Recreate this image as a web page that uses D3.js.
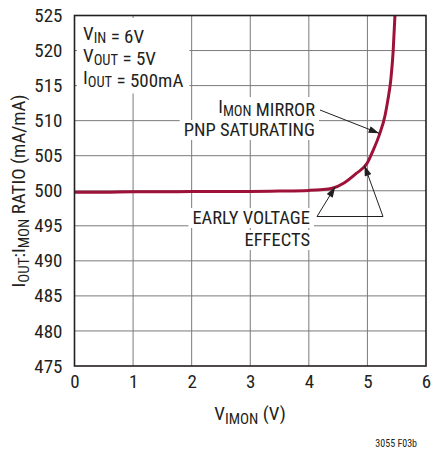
<!DOCTYPE html>
<html>
<head>
<meta charset="utf-8">
<script src="https://cdn.jsdelivr.net/npm/d3@7"></script>
<style>
  html, body { margin: 0; padding: 0; background: #fff; }
  svg { display: block; }
  text { font-family: "Liberation Sans Narrow", "Roboto Condensed", "Arial Narrow", "Liberation Sans", sans-serif; fill: #231f20; }
</style>
</head>
<body>
<svg id="chart" width="431" height="449"></svg>
<script>
// ---- data ----
const vImon = [0, 0.5, 1, 1.5, 2, 2.5, 3, 3.5, 4, 4.2, 4.4, 4.6, 4.8, 5.0, 5.1, 5.2, 5.3, 5.35, 5.4, 5.44, 5.47];
const ratio = [499.8, 499.8, 499.85, 499.85, 499.9, 499.9, 499.9, 499.95, 500.05, 500.15, 500.35, 501.1, 502.4, 504.0, 505.8, 507.9, 510.7, 513.0, 515.9, 520.0, 525.0];
const xTicks = [0, 1, 2, 3, 4, 5, 6];
const yTicks = [475, 480, 485, 490, 495, 500, 505, 510, 515, 520, 525];
const conditions = [["V", "IN", " = 6V"], ["V", "OUT", " = 5V"], ["I", "OUT", " = 500mA"]];

const svg = d3.select("#chart");
const m = { left: 74.5, right: 426, top: 15.5, bottom: 366 };
const x = d3.scaleLinear().domain([0, 6]).range([m.left, m.right]);
const y = d3.scaleLinear().domain([475, 525]).range([m.bottom, m.top]);

// grid
const grid = svg.append("g");
grid.selectAll("line.v").data(xTicks.slice(1, -1)).join("line")
  .attr("x1", d => x(d)).attr("x2", d => x(d))
  .attr("y1", m.top).attr("y2", m.bottom)
  .attr("stroke", "#7a7a7a").attr("stroke-width", 1);
grid.selectAll("line.h").data(yTicks.slice(1, -1)).join("line")
  .attr("y1", d => y(d)).attr("y2", d => y(d))
  .attr("x1", m.left).attr("x2", m.right)
  .attr("stroke", "#7a7a7a").attr("stroke-width", 1);

// axes tick labels
const xAxis = d3.axisBottom(x).tickValues(xTicks).tickSize(0).tickPadding(9).tickFormat(d3.format("d"));
const gx = svg.append("g").attr("transform", `translate(0,${m.bottom})`).call(xAxis);
gx.select(".domain").remove();
gx.selectAll("text").style("font-size", "19px").attr("fill", "#231f20").attr("font-family", null);

const yAxis = d3.axisLeft(y).tickValues(yTicks).tickSize(0).tickPadding(12).tickFormat(d3.format("d"));
const gy = svg.append("g").attr("transform", `translate(${m.left},0)`).call(yAxis);
gy.select(".domain").remove();
gy.selectAll("text").style("font-size", "19px").attr("fill", "#231f20").attr("font-family", null);

// text label helper with white knockout background
const labels = svg.append("g");
function label(xp, yp, parts, anchor, fs) {
  const g = labels.append("g");
  const rect = g.append("rect").attr("fill", "#fff");
  const t = g.append("text").attr("x", xp).attr("y", yp).attr("text-anchor", anchor || "start").style("font-size", (fs || 19) + "px");
  parts.forEach(p => {
    if (p.sub) {
      t.append("tspan").attr("dy", 2.5).style("font-size", "14.5px").text(p.t);
      t.append("tspan").attr("dy", -2.5).text("");
    } else {
      t.append("tspan").text(p.t);
    }
  });
  return { g, rect, t };
}
function knock(o, px, py) {
  const b = o.t.node().getBBox();
  o.rect.attr("x", b.x - px).attr("y", b.y - py).attr("width", b.width + 2 * px).attr("height", b.height + 2 * py);
}

// condition block
const condY = [40, 62, 84];
const cond = conditions.map((c, i) => label(83, condY[i], [{ t: c[0] }, { t: c[1], sub: true }, { t: c[2] }]));
{
  let x0 = Infinity, y0 = Infinity, x1 = -Infinity, y1 = -Infinity;
  cond.forEach(o => { const b = o.t.node().getBBox(); x0 = Math.min(x0, b.x); y0 = Math.min(y0, b.y); x1 = Math.max(x1, b.x + b.width); y1 = Math.max(y1, b.y + b.height); });
  cond.forEach(o => o.rect.remove());
  labels.insert("rect", ":first-child").attr("x", x0 - 6).attr("y", y0 - 4).attr("width", x1 - x0 + 12).attr("height", y1 - y0 + 6).attr("fill", "#fff");
}

// annotations
const a1 = label(315, 113, [{ t: "I" }, { t: "MON", sub: true }, { t: " MIRROR" }], "end", 18.5);
const a2 = label(315, 136, [{ t: "PNP SATURATING" }], "end", 18.5);
const a3 = label(310, 224, [{ t: "EARLY VOLTAGE" }], "end", 18.5);
const a4 = label(310, 246, [{ t: "EFFECTS" }], "end", 18.5);
[a1, a2, a3, a4].forEach(o => knock(o, 4, -1));

// curve
const pts = vImon.map((v, i) => [v, ratio[i]]);
svg.append("path").datum(pts)
  .attr("fill", "none").attr("stroke", "#9e1239").attr("stroke-width", 3)
  .attr("d", d3.line().x(d => x(d[0])).y(d => y(d[1])).curve(d3.curveMonotoneX));

// arrows
const defs = svg.append("defs");
defs.append("marker").attr("id", "ah").attr("viewBox", "0 0 12 8").attr("refX", 12).attr("refY", 4)
  .attr("markerWidth", 12).attr("markerHeight", 7).attr("markerUnits", "userSpaceOnUse").attr("orient", "auto")
  .append("path").attr("d", "M0,0 L12,4 L0,8 Z").attr("fill", "#231f20");
const arr = svg.append("g").attr("stroke", "#231f20").attr("stroke-width", 1).attr("fill", "none");
arr.append("line").attr("x1", 320).attr("y1", 110).attr("x2", x(5.2)).attr("y2", y(508.2)).attr("marker-end", "url(#ah)");
arr.append("line").attr("x1", 317).attr("y1", 216.5).attr("x2", 383).attr("y2", 216.5);
arr.append("line").attr("x1", 317).attr("y1", 216.5).attr("x2", x(4.45)).attr("y2", y(500.55)).attr("marker-end", "url(#ah)");
arr.append("line").attr("x1", 383).attr("y1", 216.5).attr("x2", x(4.95)).attr("y2", y(503.6)).attr("marker-end", "url(#ah)");

// frame
svg.append("rect").attr("x", m.left).attr("y", m.top).attr("width", m.right - m.left).attr("height", m.bottom - m.top)
  .attr("fill", "none").attr("stroke", "#231f20").attr("stroke-width", 1.6);

// axis titles
const xt = svg.append("text").attr("x", 250).attr("y", 420).attr("text-anchor", "middle").style("font-size", "19px");
xt.append("tspan").text("V");
xt.append("tspan").attr("dy", 4).style("font-size", "15px").text("IMON");
xt.append("tspan").attr("dy", -4).text(" (V)");

const yt = svg.append("text").attr("transform", "translate(25,191) rotate(-90)").attr("text-anchor", "middle").style("font-size", "19px");
yt.append("tspan").text("I");
yt.append("tspan").attr("dy", 4).style("font-size", "15px").text("OUT");
yt.append("tspan").attr("dy", -4).text(":I");
yt.append("tspan").attr("dy", 4).style("font-size", "15px").text("MON");
yt.append("tspan").attr("dy", -4).text(" RATIO (mA/mA)");

svg.append("text").attr("x", 417).attr("y", 447).attr("text-anchor", "end").style("font-size", "10px").text("3055 F03b");
</script>
</body>
</html>
